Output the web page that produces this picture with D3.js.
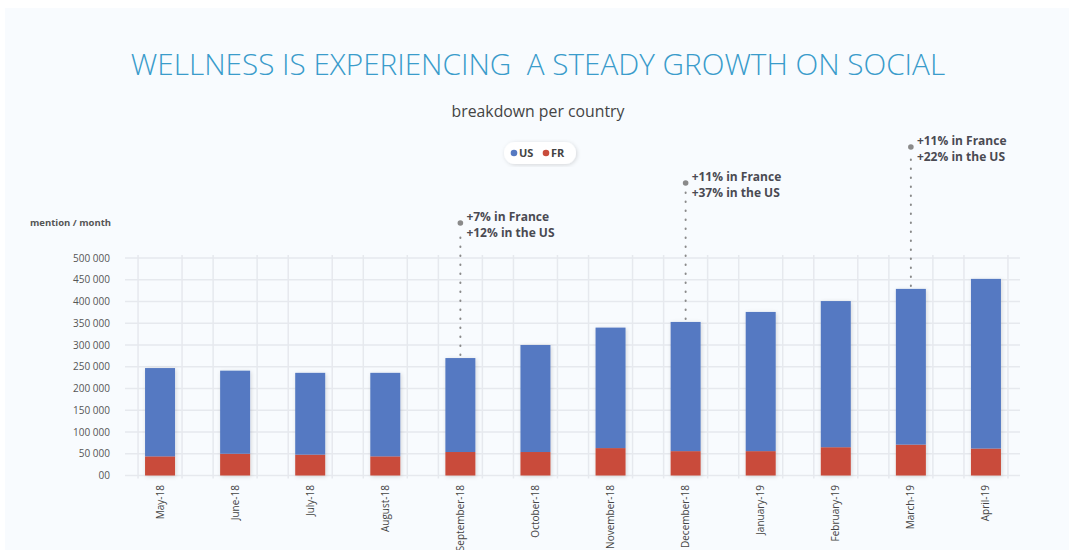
<!DOCTYPE html>
<html>
<head>
<meta charset="utf-8">
<script src="https://cdn.jsdelivr.net/npm/d3@7"></script>
<style>
  body { margin: 0; background: #fff; }
  svg { display: block; font-family: 'Open Sans', 'Noto Sans', sans-serif; }
  .grid line { stroke: #e6e9ee; stroke-width: 1.5; }
  .tick-label { font-size: 10px; fill: #555; }
  .x-label { font-size: 10px; fill: #444; }
  .note { font-size: 12px; font-weight: 700; fill: #4a4a52; }
</style>
</head>
<body>
<svg id="chart"></svg>
<script>
// data
const months = ['May-18', 'June-18', 'July-18', 'August-18', 'September-18', 'October-18',
  'November-18', 'December-18', 'January-19', 'February-19', 'March-19', 'April-19']
const frValues = [44000, 50000, 48000, 44000, 54000, 54000, 63000, 56000, 56000, 65000, 71000, 62000]
const usValues = [203000, 191000, 188000, 192000, 216000, 246000, 277000, 297000, 320000, 336000, 358000, 390000]
const yTicks = [0, 50000, 100000, 150000, 200000, 250000, 300000, 350000, 400000, 450000, 500000]
const yTickLabels = ['00', '50 000', '100 000', '150 000', '200 000', '250 000', '300 000',
  '350 000', '400 000', '450 000', '500 000']
const notes = [
  {month: 'September-18', lines: ['+7% in France', '+12% in the US'], top: 223},
  {month: 'December-18', lines: ['+11% in France', '+37% in the US'], top: 183},
  {month: 'March-19', lines: ['+11% in France', '+22% in the US'], top: 147}
]

const W = 1069, H = 550
const margin = {left: 122.5, right: 45.5, top: 258, bottom: 74}
const colors = {US: '#5579c2', FR: '#c94c3b'}

const svg = d3.select('#chart').attr('width', W).attr('height', H)

// panel
svg.append('rect')
  .attr('x', 5).attr('y', 8).attr('width', W - 5).attr('height', H - 8)
  .attr('fill', '#f8fbfe')

const x = d3.scaleBand()
  .domain(months)
  .range([margin.left, W - margin.right])
  .paddingInner(0.6)
  .paddingOuter(0.3)

const y = d3.scaleLinear()
  .domain([0, 500000])
  .range([H - margin.bottom - 0.5, margin.top])

const center = m => x(m) + x.bandwidth() / 2

// grid
const grid = svg.append('g').attr('class', 'grid')
grid.selectAll('.h')
  .data(yTicks)
  .join('line')
    .attr('x1', 125).attr('x2', 1020)
    .attr('y1', d => y(d)).attr('y2', d => y(d))
const vx = []
months.forEach(m => { vx.push(center(m) - 22, center(m) + 22) })
grid.selectAll('.v')
  .data(vx)
  .join('line')
    .attr('x1', d => d).attr('x2', d => d)
    .attr('y1', y(500000) - 3).attr('y2', y(0) + 3)

// y tick labels
svg.append('g').selectAll('text')
  .data(yTicks)
  .join('text')
    .attr('class', 'tick-label')
    .attr('x', 110)
    .attr('y', d => y(d))
    .attr('dy', '0.35em')
    .attr('text-anchor', 'end')
    .text((d, i) => yTickLabels[i])

svg.append('text')
  .attr('x', 30).attr('y', 226)
  .attr('font-size', 9.5).attr('font-weight', 700).attr('fill', '#555')
  .text('mention / month')

// stacked bars
const rows = months.map((m, i) => ({month: m, FR: frValues[i], US: usValues[i]}))
const series = d3.stack().keys(['FR', 'US'])(rows)

const defs = svg.append('defs')
const f = defs.append('filter').attr('id', 'shadow').attr('x', '-30%').attr('y', '-10%')
  .attr('width', '160%').attr('height', '120%')
f.append('feDropShadow').attr('dx', 1).attr('dy', 1).attr('stdDeviation', 2)
  .attr('flood-color', '#000').attr('flood-opacity', 0.15)

const barW = 30
const bars = svg.append('g').attr('filter', 'url(#shadow)')
bars.selectAll('g')
  .data(series)
  .join('g')
    .attr('fill', d => colors[d.key])
  .selectAll('rect')
  .data(d => d)
  .join('rect')
    .attr('x', d => center(d.data.month) - barW / 2)
    .attr('width', barW)
    .attr('y', d => y(d[1]))
    .attr('height', d => y(d[0]) - y(d[1]))

// x labels
svg.append('g').selectAll('text')
  .data(months)
  .join('text')
    .attr('class', 'x-label')
    .attr('text-anchor', 'end')
    .attr('transform', d => `translate(${center(d) + 3.5},485) rotate(-90)`)
    .text(d => d)

// annotations
const totals = {}
rows.forEach(r => { totals[r.month] = r.FR + r.US })
const ann = svg.append('g').selectAll('g')
  .data(notes)
  .join('g')
ann.append('line')
  .attr('x1', d => center(d.month)).attr('x2', d => center(d.month))
  .attr('y1', d => y(totals[d.month]) - 3)
  .attr('y2', d => d.top + 8)
  .attr('stroke', '#8a8a8a').attr('stroke-width', 2)
  .attr('stroke-linecap', 'round')
  .attr('stroke-dasharray', '0.5,8.5')
ann.append('circle')
  .attr('cx', d => center(d.month)).attr('cy', d => d.top)
  .attr('r', 2.8).attr('fill', '#8a8a8a')
ann.each(function(d) {
  const g = d3.select(this)
  d.lines.forEach((t, i) => {
    g.append('text')
      .attr('class', 'note')
      .attr('x', center(d.month) + 6)
      .attr('y', d.top - 2 + i * 16)
      .text(t)
  })
})

// title
svg.append('text')
  .attr('x', 538).attr('y', 75)
  .attr('text-anchor', 'middle')
  .attr('font-size', 29.7).attr('font-weight', 300)
  .attr('fill', '#3a9ccb')
  .attr('xml:space', 'preserve')
  .style('white-space', 'pre')
  .text('WELLNESS IS EXPERIENCING  A STEADY GROWTH ON SOCIAL')

svg.append('text')
  .attr('x', 538).attr('y', 117)
  .attr('text-anchor', 'middle')
  .attr('font-size', 15.8).attr('fill', '#444')
  .text('breakdown per country')

// legend
const leg = svg.append('g')
leg.append('rect')
  .attr('x', 504).attr('y', 142).attr('width', 72).attr('height', 22).attr('rx', 11)
  .attr('fill', '#fff').attr('filter', 'url(#shadow)')
const keys = ['US', 'FR']
const legX = [514, 546]
leg.selectAll('circle')
  .data(keys)
  .join('circle')
    .attr('cx', (d, i) => legX[i]).attr('cy', 153).attr('r', 3.3)
    .attr('fill', d => colors[d])
leg.selectAll('text')
  .data(keys)
  .join('text')
    .attr('x', (d, i) => legX[i] + 5).attr('y', 153).attr('dy', '0.35em')
    .attr('font-size', 11).attr('font-weight', 700).attr('fill', '#444')
    .text(d => d)
</script>
</body>
</html>
